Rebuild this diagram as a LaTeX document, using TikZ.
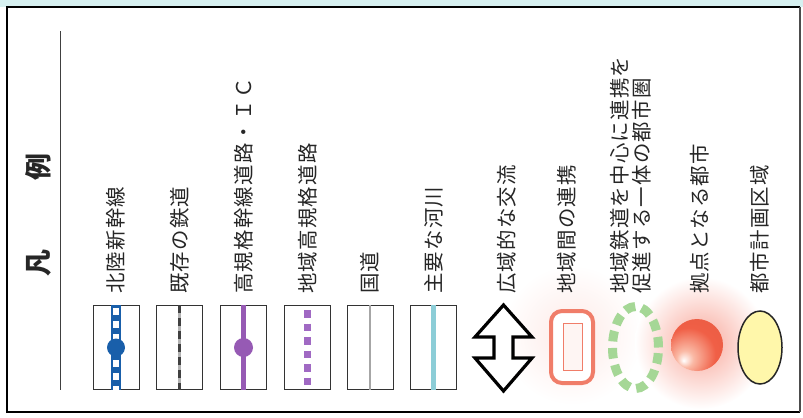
\documentclass[tikz,border=0pt]{standalone}
\usepackage{fontspec}
\usetikzlibrary{shapes.geometric}
\newfontfamily\jp[LetterSpace=6]{Noto Sans CJK JP}
\newfontfamily\jptitle{Noto Sans CJK JP}
\definecolor{bandcyan}{RGB}{214,240,240}
\definecolor{shinblue}{RGB}{25,95,170}
\definecolor{hwpurple}{RGB}{150,90,180}
\definecolor{rgpurple}{RGB}{160,105,195}
\definecolor{riverblue}{RGB}{140,205,215}
\definecolor{salmonred}{RGB}{240,125,105}
\definecolor{ringgreen}{RGB}{165,215,150}
\definecolor{cityyellow}{RGB}{255,247,170}
\definecolor{sphbase}{RGB}{240,95,70}
\definecolor{sphlight}{RGB}{250,185,165}
\definecolor{sphedge}{RGB}{228,90,65}
\definecolor{glowred}{RGB}{245,120,100}
\pgfdeclareradialshading{sphere}{\pgfpoint{-13bp}{-15bp}}{color(0bp)=(white);color(8bp)=(sphlight);color(26bp)=(sphbase);color(55bp)=(sphedge);color(70bp)=(sphedge)}
\begin{document}
\begin{tikzpicture}[x=1bp,y=-1bp,
  lab/.style={rotate=90,anchor=west,inner sep=0pt,text=black!85,font=\jp\fontsize{20.5}{22}\selectfont},
  ttl/.style={rotate=90,inner sep=0pt,text=black!85,font=\jptitle\bfseries\fontsize{27}{27}\selectfont},
  swatch/.style={draw=black!80,line width=1bp,minimum width=46bp,minimum height=84bp,inner sep=0pt}]
\useasboundingbox (0,0) rectangle (803,417);
% glows
\shade[inner color=glowred!16,outer color=white] (572,335) circle (70);
\shade[inner color=glowred!65,outer color=white] (701,343) circle (66);
% frame
\fill[bandcyan] (0,0) rectangle (803,7);
\draw[black,line width=2.5bp] (7,413) -- (7,7) -- (800,7);
\draw[black,line width=2.5bp] (6,412) -- (800,412);
\draw[black!70,line width=1.3bp] (800,7) -- (800,412);
% divider
\coordinate (vt) at (60,31);
\coordinate (vb) at (60,390);
\draw[black!75,line width=1bp] (vt) -- (vb);
% title
\node[ttl] (t1) at (38.5,263) {凡};
\node[ttl] (t2) at (38.5,167) {例};
% swatch boxes
\node[swatch] (b1) at (116,347.5) {};
\node[swatch] (b2) at (179.5,347.5) {};
\node[swatch] (b3) at (243.5,347.5) {};
\node[swatch] (b4) at (307.5,347.5) {};
\node[swatch] (b5) at (370,347.5) {};
\node[swatch] (b6) at (433.5,347.5) {};
% box 1: shinkansen
\draw[shinblue,line width=10bp] (b1.north) -- (b1.south);
\draw[white,line width=5.5bp,dash pattern=on 7bp off 6bp,dash phase=-3bp] (b1.north) -- (b1.south);
\fill[shinblue] (b1.center) circle (9);
% box 2: railway
\draw[black!30,line width=3.5bp] (b2.north) -- (b2.south);
\draw[black!75,line width=3.5bp,dash pattern=on 8bp off 5bp] (b2.north) -- (b2.south);
% box 3: highway + IC
\draw[hwpurple,line width=5bp] (b3.north) -- (b3.south);
\fill[hwpurple] (b3.center) circle (9.5);
% box 4: regional highway
\draw[rgpurple,line width=6.5bp,dash pattern=on 7.5bp off 6bp,shorten <=5bp,shorten >=5bp] (b4.north) -- (b4.south);
% box 5: national road
\draw[black!35,line width=2bp] (b5.north) -- (b5.south);
% box 6: river
\draw[riverblue,line width=4.5bp] (b6.north) -- (b6.south);
% double arrow
\coordinate (ac) at (503.5,348);
\draw[black,line width=3.2bp,line join=miter,fill=white]
  (503.5,305) -- (532,337) -- (513,337) -- (513,358) -- (532,358) -- (503.5,391)
  -- (475,358) -- (494,358) -- (494,337) -- (475,337) -- cycle;
% regional link
\node[draw=salmonred,line width=4bp,rounded corners=11bp,fill=white,minimum width=42bp,minimum height=72bp,inner sep=0pt] (rr) at (572,347) {};
\node[draw=salmonred,line width=0.8bp,fill=salmonred!8,minimum width=19bp,minimum height=47bp,inner sep=0pt] (ri) at (572.5,346.5) {};
% dashed ring
\node[ellipse,draw=ringgreen,line width=9bp,dash pattern=on 10.6bp off 6.55bp,minimum width=46bp,minimum height=82bp,inner sep=0pt] (ring) at (635.5,347.5) {};
% hub city sphere
\node[circle,shading=sphere,shade,minimum size=52bp,inner sep=0pt] (sph) at (697,345) {};
% city planning area
\node[ellipse,draw=black!85,line width=1.5bp,fill=cityyellow,minimum width=44bp,minimum height=73bp,inner sep=0pt] (cpa) at (760,347.5) {};
% labels
\node[lab] (l1) at (116,294) {北陸新幹線};
\node[lab] (l2) at (180,294) {既存の鉄道};
\node[lab] (l3) at (243.5,294) {高規格幹線道路・ＩＣ};
\node[lab] (l4) at (308,294) {地域高規格道路};
\node[lab] (l5) at (370,294) {国道};
\node[lab] (l6) at (433.5,294) {主要な河川};
\node[lab] (l7) at (507,294) {広域的な交流};
\node[lab] (l8) at (567,294) {地域間の連携};
\node[lab,align=left] (l9) at (631,294) {地域鉄道を中心に連携を\\促進する一体の都市圏};
\node[lab] (l10) at (699.5,294) {拠点となる都市};
\node[lab] (l11) at (760,294) {都市計画区域};
\end{tikzpicture}
\end{document}
